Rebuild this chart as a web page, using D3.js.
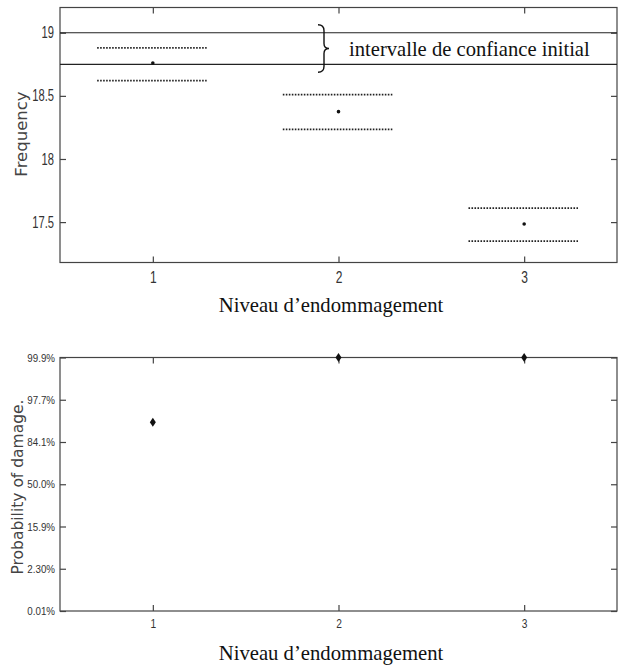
<!DOCTYPE html>
<html>
<head>
<meta charset="utf-8">
<script src="https://cdn.jsdelivr.net/npm/d3@7"></script>
<style>
  body { margin: 0; background: #fff; }
  svg { display: block; }
  .tick-lbl { font-family: "Liberation Sans", Arial, sans-serif; fill: #333; }
  .ylab { font-family: "DejaVu Sans", Verdana, sans-serif; fill: #444; }
  .serif { font-family: "Liberation Serif", "Times New Roman", serif; fill: #111; }
</style>
</head>
<body>
<div id="container"></div>
<script>
// ---- data ----
const levels = [1, 2, 3];
const freqMean = [18.76, 18.375, 17.485];
const freqUpper = [18.88, 18.51, 17.61];
const freqLower = [18.62, 18.235, 17.35];
const initialCI = [18.75, 19.0];
const freqTicks = [17.5, 18, 18.5, 19];

const probDamage = [0.929, 0.9987, 0.9987];
const probTickLabels = ["0.01%", "2.30%", "15.9%", "50.0%", "84.1%", "97.7%", "99.9%"];
const probTickSigma = [-3, -2, -1, 0, 1, 2, 3];

// probit (Acklam approx) pour l'echelle de probabilite normale
function probit(p) {
  const a = [-39.6968302866538, 220.946098424521, -275.928510446969, 138.357751867269, -30.6647980661472, 2.50662827745924];
  const b = [-54.4760987982241, 161.585836858041, -155.698979859887, 66.8013118877197, -13.2806815528857];
  const c = [-0.00778489400243029, -0.322396458041136, -2.40075827716184, -2.54973253934373, 4.37466414146497, 2.93816398269878];
  const d = [0.00778469570904146, 0.32246712907004, 2.445134137143, 3.75440866190742];
  const pl = 0.02425;
  let q, r;
  if (p < pl) {
    q = Math.sqrt(-2 * Math.log(p));
    return (((((c[0]*q+c[1])*q+c[2])*q+c[3])*q+c[4])*q+c[5]) / ((((d[0]*q+d[1])*q+d[2])*q+d[3])*q+1);
  }
  if (p > 1 - pl) {
    q = Math.sqrt(-2 * Math.log(1 - p));
    return -(((((c[0]*q+c[1])*q+c[2])*q+c[3])*q+c[4])*q+c[5]) / ((((d[0]*q+d[1])*q+d[2])*q+d[3])*q+1);
  }
  q = p - 0.5; r = q * q;
  return (((((a[0]*r+a[1])*r+a[2])*r+a[3])*r+a[4])*r+a[5])*q / (((((b[0]*r+b[1])*r+b[2])*r+b[3])*r+b[4])*r+1);
}

const W = 619, H = 668;
const svg = d3.select("#container").append("svg").attr("width", W).attr("height", H);

const x = d3.scaleLinear().domain([0.5, 3.5]).range([60, 617]);
const axisColor = "#444";
const TICK = 6;

// police etroite simulee (pas de "Arial Narrow" dispo)
const narrow = (sel, sx) =>
  sel.each(function () {
    const t = d3.select(this);
    const x0 = +t.attr("x") || 0;
    t.attr("x", x0 / sx).attr("transform", `scale(${sx},1)`);
  });

// cadre + ticks (style matlab)
function drawFrame(g, y, yTicks, yFmt, opt) {
  const [y0, y1] = y.range();
  g.append("rect")
    .attr("x", 60).attr("y", y1).attr("width", 557).attr("height", y0 - y1)
    .attr("fill", "none").attr("stroke", axisColor).attr("stroke-width", 1.2);

  g.append("g").attr("transform", `translate(0,${y0})`)
    .call(d3.axisBottom(x).tickValues(levels).tickSize(-TICK).tickPadding(opt.xPad).tickFormat(d3.format("d")))
    .call(s => s.select(".domain").remove())
    .call(s => s.selectAll("line").attr("stroke", axisColor).attr("stroke-width", 1.2))
    .call(s => s.selectAll("text").attr("class", "tick-lbl").style("font-size", opt.xFont).attr("fill", "#333")
      .call(narrow, opt.sx));
  g.append("g").attr("transform", `translate(0,${y1})`)
    .call(d3.axisTop(x).tickValues(levels).tickSize(-TICK).tickFormat(""))
    .call(s => s.select(".domain").remove())
    .call(s => s.selectAll("line").attr("stroke", axisColor).attr("stroke-width", 1.2));
  g.append("g").attr("transform", `translate(60,0)`)
    .call(d3.axisLeft(y).tickValues(yTicks).tickSize(-TICK).tickPadding(opt.yPad).tickFormat(yFmt))
    .call(s => s.select(".domain").remove())
    .call(s => s.selectAll("line").attr("stroke", axisColor).attr("stroke-width", 1.2))
    .call(s => s.selectAll("text").attr("class", "tick-lbl").style("font-size", opt.yFont).attr("fill", "#333")
      .call(narrow, opt.sy));
  g.append("g").attr("transform", `translate(617,0)`)
    .call(d3.axisRight(y).tickValues(yTicks).tickSize(-TICK).tickFormat(""))
    .call(s => s.select(".domain").remove())
    .call(s => s.selectAll("line").attr("stroke", axisColor).attr("stroke-width", 1.2));
}

// ---- graphe du haut : frequence ----
const yF = d3.scaleLinear().domain([17.18, 19.2]).range([262.5, 7.5]);
const topG = svg.append("g");
drawFrame(topG, yF, freqTicks, d => String(d),
  { xFont: "16px", yFont: "16px", sx: 0.75, sy: 0.7, xPad: 9, yPad: 6 });

initialCI.forEach(v => {
  topG.append("line")
    .attr("x1", 60).attr("x2", 617).attr("y1", yF(v)).attr("y2", yF(v))
    .attr("stroke", "#222").attr("stroke-width", 1.2);
});

levels.forEach((lv, i) => {
  [freqUpper[i], freqLower[i]].forEach(v => {
    topG.append("line")
      .attr("x1", x(lv - 0.3)).attr("x2", x(lv + 0.29))
      .attr("y1", yF(v)).attr("y2", yF(v))
      .attr("stroke", "#222").attr("stroke-width", 1.8).attr("stroke-dasharray", "1.6 1.4");
  });
  topG.append("circle").attr("cx", x(lv)).attr("cy", yF(freqMean[i])).attr("r", 1.8).attr("fill", "#111");
});

// accolade
const bx = 318, by0 = yF(initialCI[1]) - 8, by1 = yF(initialCI[0]) + 8, bm = (by0 + by1) / 2;
topG.append("path")
  .attr("d", `M${bx},${by0} Q${bx + 6},${by0} ${bx + 6},${by0 + 6} L${bx + 6},${bm - 5} Q${bx + 6},${bm} ${bx + 11},${bm}` +
             ` Q${bx + 6},${bm} ${bx + 6},${bm + 5} L${bx + 6},${by1 - 6} Q${bx + 6},${by1} ${bx},${by1}`)
  .attr("fill", "none").attr("stroke", "#111").attr("stroke-width", 1.4);
topG.append("text").attr("class", "serif")
  .attr("x", 349).attr("y", bm + 7).style("font-size", "20.6px")
  .text("intervalle de confiance initial");

topG.append("text").attr("class", "ylab")
  .attr("transform", `translate(27,134) rotate(-90)`).attr("text-anchor", "middle")
  .style("font-size", "16.5px").text("Frequency");
topG.append("text").attr("class", "serif")
  .attr("x", 331).attr("y", 312).attr("text-anchor", "middle").style("font-size", "20.7px")
  .text("Niveau d’endommagement");

// ---- graphe du bas : probabilite ----
const yP = d3.scaleLinear().domain([-3, 3]).range([611, 357.5]);
const botG = svg.append("g");
drawFrame(botG, yP, probTickSigma, (d, i) => probTickLabels[i],
  { xFont: "12px", yFont: "11.5px", sx: 0.85, sy: 0.85, xPad: 8, yPad: 5 });

levels.forEach((lv, i) => {
  const cx = x(lv), cy = yP(Math.min(probit(probDamage[i]), 3));
  botG.append("path")
    .attr("d", `M${cx},${cy - 4.5} L${cx + 3},${cy} L${cx},${cy + 4.5} L${cx - 3},${cy} Z`)
    .attr("fill", "#111");
});

botG.append("text").attr("class", "ylab")
  .attr("transform", `translate(23,487) rotate(-90)`).attr("text-anchor", "middle")
  .style("font-size", "15.5px").text("Probability of damage.");
botG.append("text").attr("class", "serif")
  .attr("x", 331).attr("y", 660).attr("text-anchor", "middle").style("font-size", "20.7px")
  .text("Niveau d’endommagement");
</script>
</body>
</html>
